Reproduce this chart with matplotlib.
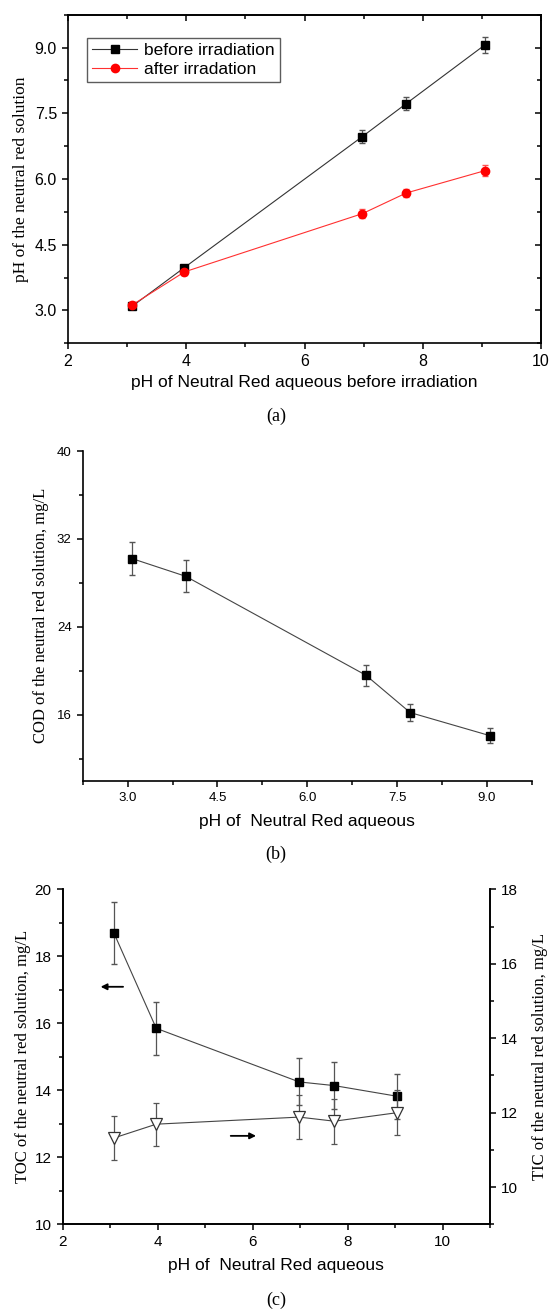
import matplotlib
matplotlib.use('Agg')
import matplotlib.pyplot as plt
from matplotlib.ticker import MultipleLocator, FormatStrFormatter

W, H = 552, 1309

# pH of the neutral red aqueous before irradiation (shared x values)
ph = [3.08, 3.97, 6.98, 7.72, 9.05]

# (a) pH before / after irradiation
ph_before = [3.09, 3.98, 6.97, 7.72, 9.06]
ph_before_err = [0.05, 0.05, 0.14, 0.15, 0.18]
ph_after = [3.12, 3.88, 5.21, 5.68, 6.19]
ph_after_err = [0.05, 0.07, 0.10, 0.10, 0.12]

# (b) COD
cod = [30.2, 28.6, 19.6, 16.2, 14.1]
cod_err = [1.5, 1.45, 0.96, 0.8, 0.69]

# (c) TOC (left axis) and TIC (right axis)
toc = [18.69, 15.85, 14.25, 14.14, 13.82]
toc_err = [0.93, 0.8, 0.7, 0.7, 0.68]
tic = [11.32, 11.69, 11.88, 11.77, 12.0]
tic_err = [0.58, 0.58, 0.6, 0.6, 0.6]

SANS = ['Liberation Sans', 'DejaVu Sans']
SERIF = ['Liberation Serif', 'DejaVu Serif']
plt.rcParams['font.family'] = SANS
plt.rcParams['axes.linewidth'] = 1.2

fig = plt.figure(figsize=(W / 100, H / 100), dpi=100)


def add_ax(l, r, t, b):
    # pixel box -> figure fraction
    return fig.add_axes([l / W, 1 - b / H, (r - l) / W, (b - t) / H])


def px_y(y):
    return 1 - y / H


def ticks(a, size):
    a.tick_params(which='both', direction='out', labelsize=size, width=1.1)
    a.tick_params(which='major', length=4.5)
    a.tick_params(which='minor', length=3)


# ---------- (a) ----------
aL, aR, aT, aB = 68, 541, 14.7, 343.3
ax = add_ax(aL, aR, aT, aB)
eb1 = ax.errorbar(ph, ph_before, yerr=ph_before_err, color='#333333', lw=0.8,
                  marker='s', ms=5.5, mfc='k', mec='k', ecolor='#555555',
                  elinewidth=0.9, capsize=2.5)
eb2 = ax.errorbar(ph, ph_after, yerr=ph_after_err, color='#ff3030', lw=0.8,
                  marker='o', ms=6, mfc='#ff0000', mec='#ff0000',
                  ecolor='#ff5050', elinewidth=0.9, capsize=2.5)
ax.set_xlim(2, 10)
ax.set_ylim(2.25, 9.75)
ax.xaxis.set_major_locator(MultipleLocator(2))
ax.xaxis.set_minor_locator(MultipleLocator(1))
ax.yaxis.set_major_locator(MultipleLocator(1.5))
ax.yaxis.set_minor_locator(MultipleLocator(0.75))
ax.yaxis.set_major_formatter(FormatStrFormatter('%.1f'))
ticks(ax, 11.5)
sx = ax.secondary_xaxis('top')
sx.xaxis.set_major_locator(MultipleLocator(2))
sx.xaxis.set_minor_locator(MultipleLocator(1))
ticks(sx, 11)
sx.tick_params(which='both', direction='in', labeltop=False)
sy = ax.secondary_yaxis('right')
sy.yaxis.set_major_locator(MultipleLocator(1.5))
sy.yaxis.set_minor_locator(MultipleLocator(0.75))
ticks(sy, 11)
sy.tick_params(which='both', direction='in', labelright=False)
ax.set_ylabel('pH of the neutral red solution', family=SERIF, fontsize=12.5)
ax.yaxis.set_label_coords((29 - aL) / (aR - aL), 0.5)
ax.set_xlabel('pH of Neutral Red aqueous before irradiation', fontsize=12.5)
ax.xaxis.set_label_coords(0.5, -(375 - aB) / (aB - aT))
leg = ax.legend([eb1[0], eb2[0]], ['before irradiation', 'after irradation'],
                loc='upper left', bbox_to_anchor=(0.04, 0.929), fontsize=12.5,
                frameon=True, fancybox=False, edgecolor='#333333',
                handlelength=2.6, handletextpad=0.4, borderpad=0.3,
                labelspacing=0.2, borderaxespad=0)
leg.get_frame().set_linewidth(1.0)
fig.text(276 / W, px_y(416), '(a)', family=SERIF, fontsize=13,
         ha='center', va='center')

# ---------- (b) ----------
bL, bR, bT, bB = 82.7, 531.7, 451, 780.7
bx = add_ax(bL, bR, bT, bB)
bx.errorbar(ph, cod, yerr=cod_err, color='#444444', lw=0.8, marker='s',
            ms=5.5, mfc='k', mec='k', ecolor='#555555', elinewidth=0.9,
            capsize=2.5)
bx.set_xlim(2.25, 9.75)
bx.set_ylim(10, 40)
bx.xaxis.set_major_locator(MultipleLocator(1.5))
bx.xaxis.set_minor_locator(MultipleLocator(0.75))
bx.xaxis.set_major_formatter(FormatStrFormatter('%.1f'))
bx.set_yticks([16, 24, 32, 40])
bx.set_yticks([12, 20, 28, 36], minor=True)
bx.spines['top'].set_visible(False)
bx.spines['right'].set_visible(False)
ticks(bx, 9.5)
bx.set_ylabel('COD of the neutral red solution, mg/L', family=SERIF,
              fontsize=12)
bx.yaxis.set_label_coords((49 - bL) / (bR - bL), 0.5)
bx.set_xlabel('pH of  Neutral Red aqueous', fontsize=12.5)
bx.xaxis.set_label_coords(0.5, -(814 - bB) / (bB - bT))
fig.text(276 / W, px_y(854), '(b)', family=SERIF, fontsize=13,
         ha='center', va='center')

# ---------- (c) ----------
cL, cR, cT, cB = 62.7, 490.1, 889.3, 1224.3
cx = add_ax(cL, cR, cT, cB)
cx.errorbar(ph, toc, yerr=toc_err, color='#444444', lw=0.8, marker='s',
            ms=5.5, mfc='k', mec='k', ecolor='#555555', elinewidth=0.9,
            capsize=2.5)
cx.set_xlim(2, 11)
cx.set_ylim(10, 20)
cx.xaxis.set_major_locator(MultipleLocator(2))
cx.xaxis.set_minor_locator(MultipleLocator(1))
cx.yaxis.set_major_locator(MultipleLocator(2))
cx.yaxis.set_minor_locator(MultipleLocator(1))
cx.spines['top'].set_visible(False)
ticks(cx, 11)
cx.set_ylabel('TOC of the neutral red solution, mg/L', family=SERIF,
              fontsize=12)
cx.yaxis.set_label_coords((31 - cL) / (cR - cL), 0.5)
cx.set_xlabel('pH of  Neutral Red aqueous', fontsize=12.5)
cx.xaxis.set_label_coords(0.5, -(1258 - cB) / (cB - cT))

cx2 = cx.twinx()
cx2.errorbar(ph, tic, yerr=tic_err, color='#444444', lw=0.8, marker='v',
             ms=8.5, mfc='white', mec='#333333', mew=0.9, ecolor='#555555',
             elinewidth=0.9, capsize=2.5)
cx2.set_ylim(9, 18)
cx2.yaxis.set_major_locator(MultipleLocator(2))
cx2.yaxis.set_minor_locator(MultipleLocator(1))
cx2.spines['top'].set_visible(False)
ticks(cx2, 11)
cx2.set_ylabel('TIC of the neutral red solution, mg/L', family=SERIF,
               fontsize=12, rotation=90)
cx2.yaxis.set_label_coords((532 - cL) / (cR - cL), 0.5)

arrow = dict(arrowstyle='-|>', color='k', lw=1.3, mutation_scale=9)
cx.annotate('', xy=(2.74, 17.09), xytext=(3.33, 17.09), arrowprops=arrow)
cx.annotate('', xy=(6.13, 12.64), xytext=(5.48, 12.64), arrowprops=arrow)
fig.text(276 / W, px_y(1300), '(c)', family=SERIF, fontsize=13,
         ha='center', va='center')

fig.savefig('out.png', dpi=100)
